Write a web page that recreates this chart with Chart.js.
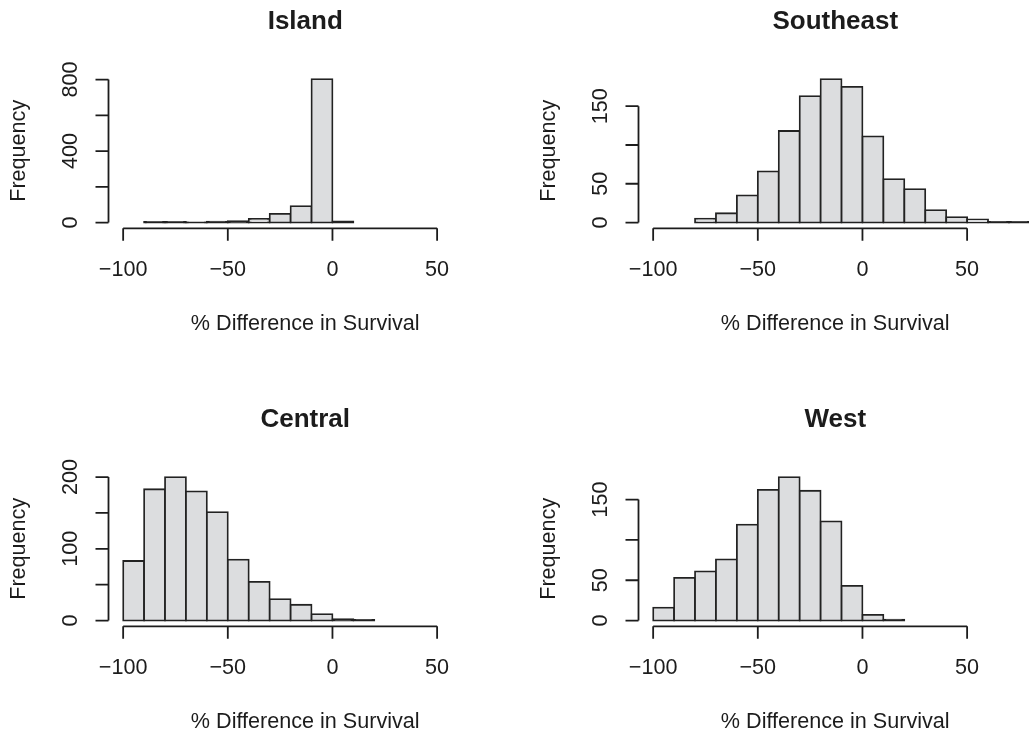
<!DOCTYPE html>
<html>
<head>
<meta charset="utf-8">
<title>Survival difference histograms</title>
<script src="https://cdn.jsdelivr.net/npm/chart.js@4.4.1/dist/chart.umd.min.js"></script>
<style>
  html, body { margin: 0; padding: 0; background: #fff; }
  body { width: 1029px; height: 732px; overflow: hidden; position: relative; }
  .panel { position: absolute; width: 530px; height: 398px; }
</style>
</head>
<body>
<div class="panel" style="left:0;top:0"><canvas id="island" width="530" height="398"></canvas></div>
<div class="panel" style="left:530px;top:0"><canvas id="southeast" width="530" height="398"></canvas></div>
<div class="panel" style="left:0;top:398px"><canvas id="central" width="530" height="398"></canvas></div>
<div class="panel" style="left:530px;top:398px"><canvas id="west" width="530" height="398"></canvas></div>
<script>
// Histogram data (bins are 10 wide, first value = left edge of first bin)
const binWidth = 10;
const xTicks = [-100, -50, 0, 50];

const islandStart = -90;
const islandCounts = [3, 3, 1, 5, 8, 20, 49, 92, 803, 6];
const islandTicks = [0, 200, 400, 600, 800];
const islandLabels = [0, 400, 800];

const southeastStart = -80;
const southeastCounts = [5, 12, 35, 66, 118, 163, 185, 175, 111, 56, 43, 16, 7, 4, 1, 1];
const southeastTicks = [0, 50, 100, 150];
const southeastLabels = [0, 50, 150];

const centralStart = -100;
const centralCounts = [83, 183, 200, 180, 151, 85, 54, 30, 22, 9, 2, 1];
const centralTicks = [0, 50, 100, 150, 200];
const centralLabels = [0, 100, 200];

const westStart = -100;
const westCounts = [16, 53, 61, 76, 119, 162, 178, 161, 123, 43, 7, 1];
const westTicks = [0, 50, 100, 150];
const westLabels = [0, 50, 150];

const FILL = '#dcdddf';
const EDGE = '#222222';
const INK = '#1c1c1c';
const FONT = '"Liberation Sans", Arial, Helvetica, sans-serif';
const LW = 1.8;

const fmt = v => (v < 0 ? '\u2212' + Math.abs(v) : String(v));

// R-style axes, titles and labels, placed with the chart's own scales
const rAxes = {
    id: 'rAxes',
    afterDraw(chart, args, opts) {
        const { ctx, chartArea, scales: { x, y } } = chart;
        const midX = (chartArea.left + chartArea.right) / 2;
        const midY = (chartArea.top + chartArea.bottom) / 2;
        ctx.save();
        ctx.strokeStyle = INK;
        ctx.fillStyle = INK;
        ctx.lineWidth = LW;

        // x axis
        const ax = chartArea.bottom;
        ctx.beginPath();
        ctx.moveTo(x.getPixelForValue(xTicks[0]), ax);
        ctx.lineTo(x.getPixelForValue(xTicks[xTicks.length - 1]), ax);
        xTicks.forEach(v => {
            const px = x.getPixelForValue(v);
            ctx.moveTo(px, ax);
            ctx.lineTo(px, ax + 12.5);
        });
        ctx.stroke();
        ctx.font = '21.6px ' + FONT;
        ctx.textAlign = 'center';
        ctx.textBaseline = 'alphabetic';
        xTicks.forEach(v => ctx.fillText(fmt(v), x.getPixelForValue(v), ax + 48));
        ctx.fillText('% Difference in Survival', midX, ax + 102);

        // y axis
        const ay = chartArea.left;
        const yt = opts.ticks;
        ctx.beginPath();
        ctx.moveTo(ay, y.getPixelForValue(yt[0]));
        ctx.lineTo(ay, y.getPixelForValue(yt[yt.length - 1]));
        yt.forEach(v => {
            const py = y.getPixelForValue(v);
            ctx.moveTo(ay, py);
            ctx.lineTo(ay - 13, py);
        });
        ctx.stroke();
        opts.labels.forEach(v => {
            ctx.save();
            ctx.translate(ay - 31.5, y.getPixelForValue(v));
            ctx.rotate(-Math.PI / 2);
            ctx.fillText(fmt(v), 0, 0);
            ctx.restore();
        });
        ctx.save();
        ctx.translate(ay - 84, midY);
        ctx.rotate(-Math.PI / 2);
        ctx.fillText('Frequency', 0, 0);
        ctx.restore();

        // main title
        ctx.font = 'bold 26px ' + FONT;
        ctx.fillText(opts.title, midX, 29.3);
        ctx.restore();
    }
};

function makeHist(id, title, start, counts, ticks, labels) {
    const data = counts.map((c, i) => ({ x: start + i * binWidth + binWidth / 2, y: c }));
    const top = Math.max(...counts);
    new Chart(document.getElementById(id), {
        type: 'bar',
        data: {
            datasets: [{
                data: data,
                // very short bins show up as a solid dark line, like R's rect outline
                backgroundColor: (c) => {
                    if (!c.raw) return FILL;
                    const ys = c.chart.scales.y;
                    const h = ys.getPixelForValue(0) - ys.getPixelForValue(c.raw.y);
                    return h < LW ? EDGE : FILL;
                },
                borderColor: EDGE,
                borderWidth: LW,
                inflateAmount: LW / 2,
                borderSkipped: false,
                barPercentage: 1,
                categoryPercentage: 1,
                grouped: false,
                clip: false
            }]
        },
        options: {
            responsive: false,
            animation: false,
            devicePixelRatio: 1,
            layout: { padding: { left: 108.5, right: 28, top: 73.3, bottom: 169.7 } },
            plugins: {
                legend: { display: false },
                tooltip: { enabled: false },
                rAxes: { title: title, ticks: ticks, labels: labels }
            },
            scales: {
                x: {
                    type: 'linear',
                    min: -107,
                    max: 81,
                    offset: false,
                    display: false,
                    afterBuildTicks: s => { s.ticks = xTicks.map(v => ({ value: v })); }
                },
                y: {
                    type: 'linear',
                    min: -0.04 * top,
                    max: 1.04 * top,
                    display: false,
                    afterBuildTicks: s => { s.ticks = ticks.map(v => ({ value: v })); }
                }
            }
        },
        plugins: [rAxes]
    });
}

makeHist('island', 'Island', islandStart, islandCounts, islandTicks, islandLabels);
makeHist('southeast', 'Southeast', southeastStart, southeastCounts, southeastTicks, southeastLabels);
makeHist('central', 'Central', centralStart, centralCounts, centralTicks, centralLabels);
makeHist('west', 'West', westStart, westCounts, westTicks, westLabels);
</script>
</body>
</html>
